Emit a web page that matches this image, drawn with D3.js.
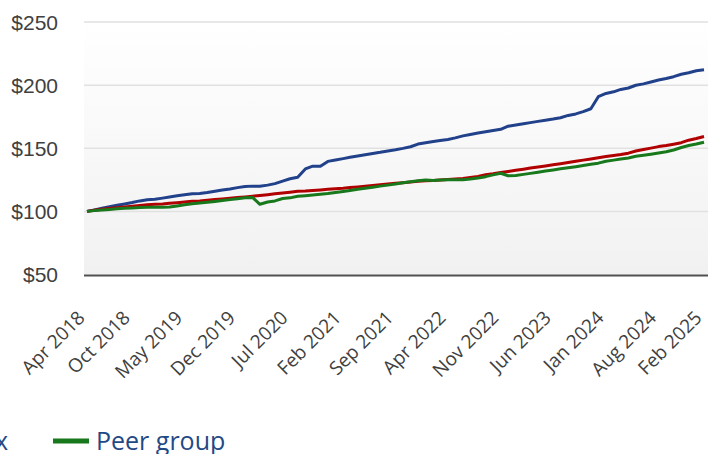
<!DOCTYPE html>
<html lang="en">
<head>
<meta charset="utf-8">
<title>Growth of $100</title>
<script src="https://d3js.org/d3.v7.min.js"></script>
<style>
  body { margin: 0; background: #fff; }
  svg { display: block; }
</style>
</head>
<body>
<script>
// monthly values, Apr 2018 .. Feb 2025
var startMonth = "2018-04";
var fund = [100.0,101.2,102.5,103.6,104.8,105.9,107.0,108.3,109.2,109.6,110.5,111.4,112.3,113.1,114.0,114.2,115.0,116.0,116.9,117.7,118.8,119.7,120.0,119.9,120.8,122.0,124.0,125.8,127.0,133.6,135.8,135.7,139.6,140.7,141.8,142.8,143.9,144.9,145.9,146.8,147.9,148.8,149.9,151.2,153.3,154.3,155.4,156.2,157.0,158.2,159.8,160.9,162.0,163.0,164.0,165.0,167.5,168.4,169.4,170.3,171.3,172.2,173.1,174.2,176.0,177.2,179.0,181.3,190.8,193.4,194.7,196.6,197.7,199.9,201.0,202.5,204.1,205.3,206.7,208.6,209.8,211.4,212.2];
var index = [100.0,100.9,101.6,102.3,102.9,103.5,104.0,104.6,105.2,105.6,105.9,106.4,106.9,107.5,108.0,108.3,108.8,109.4,109.9,110.4,110.9,111.4,112.0,112.6,113.2,113.9,114.6,115.2,115.9,116.1,116.6,117.0,117.5,118.0,118.4,118.9,119.4,119.9,120.5,121.1,121.7,122.2,122.7,123.2,123.8,124.3,124.4,124.9,125.3,125.6,126.0,126.8,127.7,129.0,129.8,130.8,131.6,132.5,133.4,134.3,135.2,136.0,136.9,137.8,138.7,139.7,140.6,141.5,142.4,143.4,144.3,145.0,146.1,147.8,149.0,150.1,151.3,152.1,153.2,154.4,156.4,157.7,159.3];
var peers = [100.0,100.6,101.1,101.5,102.0,102.4,102.7,103.0,103.2,103.3,103.3,103.4,104.3,105.2,106.0,106.6,107.2,107.9,108.6,109.3,110.0,110.8,110.9,105.6,107.4,108.3,110.2,110.7,112.0,112.4,112.9,113.5,114.1,115.0,115.8,116.6,117.5,118.3,119.1,120.0,120.8,121.7,122.6,123.5,124.2,124.8,124.4,124.8,125.0,125.0,125.0,125.6,126.4,127.5,128.9,130.2,128.2,128.5,129.3,130.1,131.0,131.9,132.8,133.7,134.5,135.4,136.4,137.3,138.2,139.7,140.6,141.4,142.3,143.6,144.4,145.3,146.3,147.2,148.6,150.6,152.2,153.4,154.8];
var seriesNames = ["Fund", "Index", "Peer group"];
var seriesColors = ["#21418b", "#b00000", "#18781c"];
var xTickLabels = ["Apr 2018","Oct 2018","May 2019","Dec 2019","Jul 2020","Feb 2021","Sep 2021","Apr 2022","Nov 2022","Jun 2023","Jan 2024","Aug 2024","Feb 2025"];
var yTicks = [50, 100, 150, 200, 250];

var W = 708, H = 454;
var parseMonth = d3.timeParse("%Y-%m");
var parseLabel = d3.timeParse("%b %Y");
var t0 = parseMonth(startMonth);
var dates = fund.map(function(d, i) { return d3.timeMonth.offset(t0, i); });

var svg = d3.select("body").append("svg").attr("width", W).attr("height", H)
  .style("font-family", "'Liberation Sans', Arial, sans-serif");

var x = d3.scaleTime().domain([dates[0], dates[dates.length - 1]]).range([87, 704]);
var y = d3.scaleLinear().domain([50, 250]).range([274.5, 22]);

var grad = svg.append("defs").append("linearGradient")
  .attr("id", "bg").attr("x1", 0).attr("y1", 0).attr("x2", 0).attr("y2", 1);
grad.append("stop").attr("offset", "0%").attr("stop-color", "#ffffff");
grad.append("stop").attr("offset", "100%").attr("stop-color", "#f1f1f1");

svg.append("rect").attr("x", 84).attr("y", y(250)).attr("width", W - 84)
  .attr("height", y(50) - y(250)).attr("fill", "url(#bg)");

// gridlines
svg.append("g").selectAll("line").data(yTicks.slice(1)).join("line")
  .attr("x1", 84).attr("x2", W).attr("y1", function(d) { return y(d); }).attr("y2", function(d) { return y(d); })
  .attr("stroke", "#e1e1e1").attr("stroke-width", 1.5);

// y labels
svg.append("g").selectAll("text").data(yTicks).join("text")
  .attr("x", 58).attr("y", function(d) { return y(d); }).attr("dy", "0.36em")
  .attr("text-anchor", "end").attr("font-size", 21).attr("fill", "#404040")
  .text(function(d) { return "$" + d; });

// x axis line
svg.append("line").attr("x1", 84).attr("x2", W).attr("y1", y(50) + 1).attr("y2", y(50) + 1)
  .attr("stroke", "#505050").attr("stroke-width", 2);

// x labels
svg.append("g").selectAll("text").data(xTickLabels).join("text")
  .attr("transform", function(d) { return "translate(" + (x(parseLabel(d)) - 1) + ",319) rotate(-45)"; })
  .attr("text-anchor", "end")
  .style("font-family", "'Open Sans', sans-serif").attr("font-size", 19).attr("fill", "#404040")
  .text(function(d) { return d; });

// lines
var line = d3.line().x(function(d, i) { return x(dates[i]); }).y(function(d) { return y(d); });
[fund, index, peers].forEach(function(s, k) {
  svg.append("path").datum(s).attr("d", line).attr("fill", "none")
    .attr("stroke", seriesColors[k]).attr("stroke-width", 3).attr("stroke-linejoin", "round");
});

// legend, laid out right-to-left from the last item
var legend = svg.append("g").style("font-family", "'Open Sans', sans-serif");
var swatchX = 53, ly = 441;
for (var k = seriesNames.length - 1; k >= 0; k--) {
  legend.append("line").attr("x1", swatchX).attr("x2", swatchX + 36).attr("y1", ly).attr("y2", ly)
    .attr("stroke", seriesColors[k]).attr("stroke-width", 5);
  legend.append("text").attr("x", swatchX + 43).attr("y", 450)
    .attr("font-size", 25).attr("fill", "#1f4a86").text(seriesNames[k]);
  if (k > 0) {
    var prev = legend.append("text").attr("font-size", 25).text(seriesNames[k - 1]);
    var w = prev.node().getComputedTextLength();
    prev.remove();
    swatchX = swatchX - 45 - w - 43;
  }
}
</script>
</body>
</html>
